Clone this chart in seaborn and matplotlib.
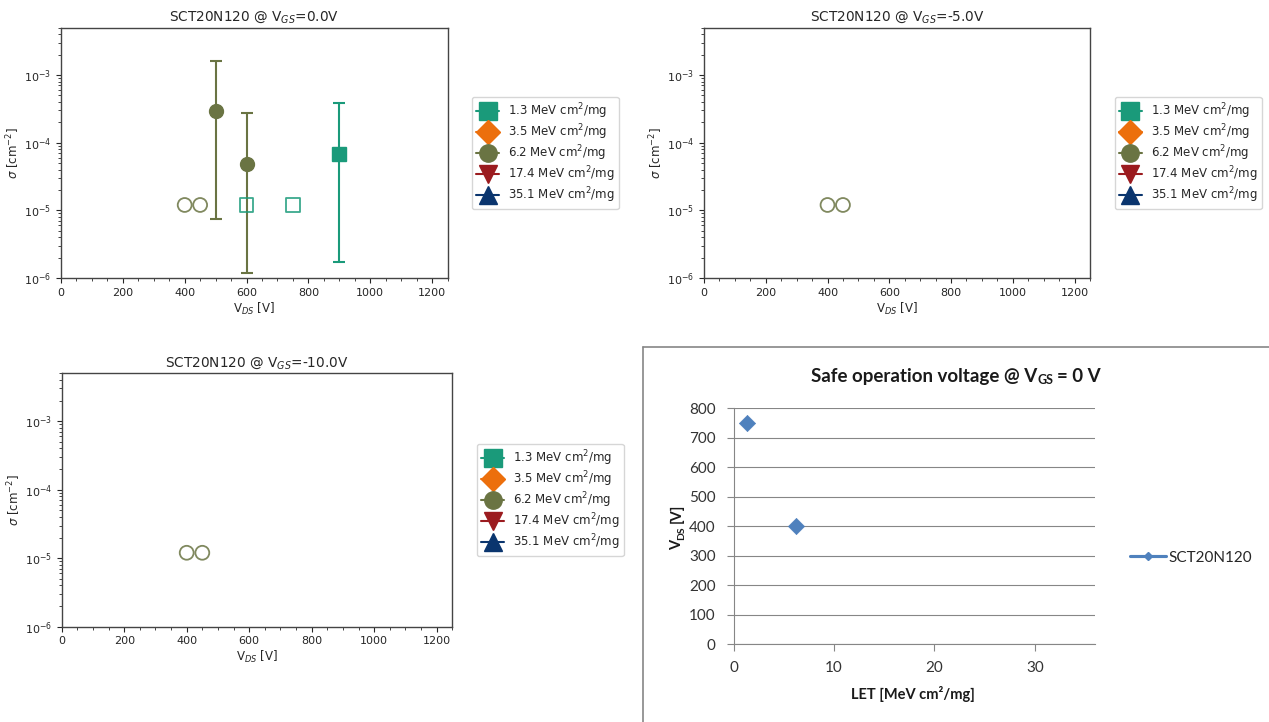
import numpy as np
import pandas as pd
import matplotlib
matplotlib.use("Agg")
import matplotlib.pyplot as plt
import matplotlib.transforms as mtransforms
from matplotlib.lines import Line2D
from matplotlib.ticker import MultipleLocator, FixedLocator
import seaborn as sns

# ---------------- data ----------------
let_labels = ["1.3", "3.5", "6.2", "17.4", "35.1"]
let_colors = ["#1a9a7a", "#ec6f0c", "#6a7443", "#9b1b1f", "#0a356e"]
let_markers = ["s", "D", "o", "v", "^"]

# V_GS = 0 V : measured cross sections with error bars
m13_vds = [900]
m13_sig = [6.8e-5]
m13_lo = [1.7e-6]
m13_hi = [3.8e-4]
m62_vds = [500, 600]
m62_sig = [2.9e-4, 4.9e-5]
m62_lo = [7.4e-6, 1.2e-6]
m62_hi = [1.6e-3, 2.7e-4]
# no-event upper limits (open markers)
ul13_vds_0 = [600, 750]
ul13_sig_0 = [1.2e-5, 1.2e-5]
ul62_vds_0 = [400, 450]
ul62_sig_0 = [1.2e-5, 1.2e-5]
ul62_vds_m5 = [400, 450]
ul62_sig_m5 = [1.2e-5, 1.2e-5]
ul62_vds_m10 = [400, 450]
ul62_sig_m10 = [1.2e-5, 1.2e-5]

# safe operating voltage
safe_let = [1.3, 6.2]
safe_vds = [750, 400]

# ---------------- style ----------------
sns.set_style("ticks")
plt.rcParams.update({
    "font.family": ["DejaVu Sans"],
    "font.size": 9,
    "text.color": ".15",
    "axes.labelcolor": ".15",
    "axes.edgecolor": "#444444",
    "axes.linewidth": 1.0,
    "xtick.color": ".15",
    "ytick.color": ".15",
    "xtick.major.size": 3.5,
    "ytick.major.size": 3.5,
    "xtick.minor.size": 2,
    "ytick.minor.size": 2,
    "xtick.major.width": 0.8,
    "ytick.major.width": 0.8,
    "xtick.minor.width": 0.6,
    "ytick.minor.width": 0.6,
})

W, H = 1269, 722
fig = plt.figure(figsize=(W / 100, H / 100), dpi=100)


def px_rect(l, t, r, b):
    return [l / W, 1 - b / H, (r - l) / W, (b - t) / H]


def sigma_panel(rect, vgs, measured, limits, legend_anchor):
    ax = fig.add_axes(px_rect(*rect))
    ax.set_yscale("log")
    for idx, vds, sig, lo, hi in measured:
        sig = np.array(sig)
        yerr = [sig - np.array(lo), np.array(hi) - sig]
        ax.errorbar(vds, sig, yerr=yerr, fmt=let_markers[idx], color=let_colors[idx],
                    ms=10, capsize=4.3, elinewidth=1.5, capthick=1.5, ls="none", zorder=3)
    for idx, vds, sig in limits:
        sns.scatterplot(x=vds, y=sig, ax=ax, marker=let_markers[idx], s=100,
                        facecolor="none", edgecolor=let_colors[idx], linewidth=1.3,
                        alpha=0.85, legend=False, zorder=3)
    ax.set_xlim(0, 1250)
    ax.set_ylim(1e-6, 5e-3)
    ax.xaxis.set_major_locator(MultipleLocator(200))
    ax.xaxis.set_minor_locator(MultipleLocator(50))
    ax.set_title(f"SCT20N120 @ V$_{{GS}}$={vgs}V", fontsize=9.8, pad=5)
    ax.set_xlabel("V$_{DS}$ [V]", fontsize=8.5, labelpad=2)
    ax.set_ylabel(r"$\sigma$ [cm$^{-2}$]", fontsize=8.5, labelpad=1.5)
    ax.tick_params(labelsize=8)
    for s in ax.spines.values():
        s.set_visible(True)
    handles = [Line2D([0], [0], color=c, marker=m, ms=12.5, lw=1.5,
                      label=f"{l} MeV cm$^2$/mg")
               for l, c, m in zip(let_labels, let_colors, let_markers)]
    ax.legend(handles=handles, loc="center left",
              bbox_to_anchor=(legend_anchor[0] / W, 1 - legend_anchor[1] / H),
              bbox_transform=fig.transFigure, borderaxespad=0, fontsize=8.5,
              labelspacing=0.12, handlelength=2.0, handletextpad=0.75,
              borderpad=0.35)
    return ax


sigma_panel((61, 27.7, 447.5, 278), "0.0",
            [(0, m13_vds, m13_sig, m13_lo, m13_hi), (2, m62_vds, m62_sig, m62_lo, m62_hi)],
            [(0, ul13_vds_0, ul13_sig_0), (2, ul62_vds_0, ul62_sig_0)],
            (471.7, 153))
sigma_panel((704, 27.7, 1090, 278), "-5.0", [],
            [(2, ul62_vds_m5, ul62_sig_m5)], (1114.5, 153))
sigma_panel((61.7, 373.3, 452.3, 626.7), "-10.0", [],
            [(2, ul62_vds_m10, ul62_sig_m10)], (476.7, 500))

# ---------------- Excel-like panel ----------------
XL_FONT = ["Lato", "DejaVu Sans"]
GRAY = "#868686"
BLUE = "#4f81bd"

ax4 = fig.add_axes(px_rect(733.7, 408.3, 1095, 644))
df_safe = pd.DataFrame({"LET": safe_let, "VDS": safe_vds})
sns.scatterplot(data=df_safe, x="LET", y="VDS", ax=ax4, marker="D", s=68,
                color=BLUE, edgecolor=BLUE, linewidth=0.5, legend=False,
                clip_on=False, zorder=3)
ax4.set_xlim(0, 36)
ax4.set_ylim(0, 800)
ax4.xaxis.set_major_locator(FixedLocator([0, 10, 20, 30]))
ax4.yaxis.set_major_locator(MultipleLocator(100))
ax4.yaxis.grid(True, color=GRAY, lw=0.8)
ax4.set_axisbelow(True)
ax4.set_xlabel("")
ax4.set_ylabel("")
for side in ("top", "right"):
    ax4.spines[side].set_visible(False)
for side in ("left", "bottom"):
    ax4.spines[side].set_color(GRAY)
    ax4.spines[side].set_linewidth(0.8)
ax4.tick_params(axis="both", length=5, width=0.8, color=GRAY, labelcolor="#333333",
                labelsize=11)
ax4.tick_params(axis="y", pad=8)
ax4.tick_params(axis="x", pad=7)
for lbl in ax4.get_xticklabels() + ax4.get_yticklabels():
    lbl.set_family(XL_FONT)

leg_handle = Line2D([0], [0], color=BLUE, lw=2.25, marker="D", ms=4.5)
ax4.legend([leg_handle], ["SCT20N120"], loc="center left",
           bbox_to_anchor=(1130 / W, 1 - 557.7 / H), bbox_transform=fig.transFigure,
           frameon=False, borderpad=0, borderaxespad=0, handlelength=2.35,
           handletextpad=0.15, prop={"family": XL_FONT, "size": 11})

# chart border
fig.add_artist(Line2D([642.5 / W, 642.5 / W], [0, 1 - 347.3 / H],
                      transform=fig.transFigure, color=GRAY, lw=1.2))
fig.add_artist(Line2D([642.5 / W, 1], [1 - 347.3 / H, 1 - 347.3 / H],
                      transform=fig.transFigure, color=GRAY, lw=1.2))

renderer = fig.canvas.get_renderer()
ident = mtransforms.IdentityTransform()


def compose(x, y, runs, rot=0, color="#1a1a1a"):
    """runs: (text, size, dy_px, gap_after_px); x,y in px from top-left (center, baseline)."""
    objs, widths = [], []
    for txt, size, dy, gap in runs:
        t = fig.text(0, 0, txt, fontsize=size, fontweight="bold", family=XL_FONT,
                     rotation=rot, rotation_mode="anchor", ha="left", va="baseline",
                     transform=ident, color=color)
        bb = t.get_window_extent(renderer)
        w = bb.width if rot == 0 else bb.height
        objs.append(t)
        widths.append(w + gap)
    total = sum(widths)
    pos = -total / 2
    yd = H - y
    for t, w, (txt, size, dy, gap) in zip(objs, widths, runs):
        if rot == 0:
            t.set_position((x + pos, yd + dy))
        else:
            t.set_position((x - dy, yd + pos))
        pos += w


compose(955.7, 381.7, [("Safe operation voltage @ V", 13.5, 0, 0),
                       ("GS", 9, -2.5, 3.5),
                       ("= 0 V", 13.5, 0, 0)])
compose(913, 699, [("LET [MeV cm\u00b2/mg]", 10.5, 0, 0)])
compose(680.7, 527, [("V", 10.5, 0, 0), ("DS", 7.5, -3, 3), ("[V]", 10.5, 0, 0)], rot=90)

fig.savefig("out.png", dpi=100)
